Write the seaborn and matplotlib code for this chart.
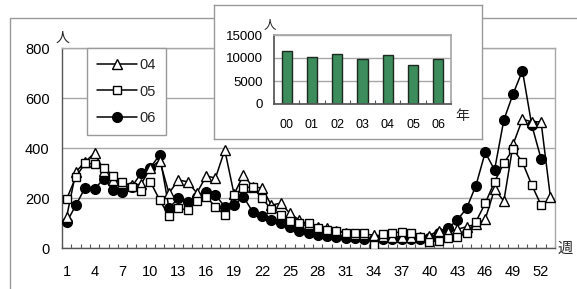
import numpy as np
import pandas as pd
import matplotlib
matplotlib.use("Agg")
import matplotlib.pyplot as plt
import seaborn as sns
from matplotlib.patches import Rectangle

# ---- data ----
cases_04 = [125, 305, 345, 380, 310, 272, 260, 252, 255, 320, 350, 219, 272, 265,
            220, 288, 280, 392, 215, 292, 245, 240, 172, 179, 139, 112, 95, 85,
            80, 70, 62, 58, 55, 52, 48, 45, 45, 45, 45, 50, 70, 65, 75, 85, 95,
            115, 235, 188, 415, 515, 505, 505, 205]
cases_05 = [196, 285, 340, 335, 320, 290, 265, 245, 228, 265, 192, 128, 159, 152,
            190, 205, 165, 132, 212, 240, 245, 199, 155, 132, 110, 100, 99, 80,
            72, 68, 60, 60, 62, 12, 55, 59, 65, 59, 45, 25, 30, 40, 45, 59, 105,
            179, 265, 339, 396, 343, 252, 172]
cases_06 = [103, 172, 242, 236, 277, 232, 225, 245, 299, 322, 372, 159, 199, 185,
            205, 225, 212, 165, 172, 205, 145, 130, 112, 99, 85, 70, 60, 52, 48,
            45, 42, 40, 38, 36, 35, 35, 36, 37, 38, 42, 59, 79, 112, 159, 250,
            383, 312, 512, 617, 709, 492, 357]
series_labels = ["04", "05", "06"]
week_tick_labels = [1, 4, 7, 10, 13, 16, 19, 22, 25, 28, 31, 34, 37, 40, 43, 46, 49, 52]

years = ["00", "01", "02", "03", "04", "05", "06"]
annual_totals = [11500, 10300, 10800, 9700, 10650, 8500, 9700]

W, H = 577, 289

sns.set_theme(style="white")
plt.rcParams["font.family"] = ["Liberation Sans", "Noto Sans CJK JP", "DejaVu Sans"]

fig = plt.figure(figsize=(W / 100, H / 100), dpi=100)

def fr(x0, y0, x1, y1):
    """pixel box (top-left origin) -> figure fraction rect"""
    return [x0 / W, 1 - y1 / H, (x1 - x0) / W, (y1 - y0) / H]

# outer frame (extends beyond the image to the right and bottom)
fig.patches.append(Rectangle((10 / W, -0.2), 1.2, 1 - 18 / H + 0.2,
                             transform=fig.transFigure, fill=False,
                             edgecolor="#9a9a9a", lw=1.0, zorder=0))

# ---- main chart ----
ax = fig.add_axes(fr(62, 48, 555, 248))
rows = []
for lab, vals in zip(series_labels, [cases_04, cases_05, cases_06]):
    for i, v in enumerate(vals):
        rows.append((lab, i + 1, v))
df = pd.DataFrame(rows, columns=["year", "week", "cases"])

sns.lineplot(data=df, x="week", y="cases", hue="year", style="year",
             hue_order=series_labels, style_order=series_labels,
             markers={"04": "^", "05": "s", "06": "o"}, dashes=False,
             palette={"04": "black", "05": "black", "06": "black"},
             linewidth=1.1, markersize=6.5, markeredgecolor="black",
             markeredgewidth=1.0, legend=False, ax=ax)

faces = {"04": "white", "05": "white", "06": "black"}
sizes = {"04": 6.5, "05": 6.0, "06": 7.0}
for line, lab in zip(ax.lines[:3], series_labels):
    line.set_markerfacecolor(faces[lab])
    line.set_markersize(sizes[lab])
    line.set_zorder(3 if lab == "06" else 4)

ax.set_xlim(0.5, 53.5)
ax.set_ylim(0, 800)
ax.set_yticks([0, 200, 400, 600, 800])
ax.set_xticks(week_tick_labels)
ax.set_xticklabels([str(w) for w in week_tick_labels])
ax.set_xticks(np.arange(0.5, 54, 1), minor=True)
ax.tick_params(axis="x", which="major", length=0, pad=12, labelsize=10.5, colors="black")
ax.tick_params(axis="x", which="minor", direction="in", length=3, width=0.8,
               color="#555555", bottom=True)
ax.tick_params(axis="y", length=0, pad=9, labelsize=10.5, colors="black")
ax.set_xlabel("")
ax.set_ylabel("")
ax.grid(axis="y", color="#a8a8a8", lw=1.0)
ax.set_axisbelow(True)
for s in ["top", "right"]:
    ax.spines[s].set_color("#a8a8a8")
for s in ["left", "bottom"]:
    ax.spines[s].set_color("#555555")
for s in ax.spines.values():
    s.set_linewidth(1.0)

leg = ax.legend(ax.lines[:3], series_labels, loc="upper left",
                bbox_to_anchor=(87 / W, 1 - 48 / H), bbox_transform=fig.transFigure,
                borderaxespad=0, frameon=True, fancybox=False, framealpha=1,
                edgecolor="#999999", fontsize=10.5, handlelength=2.7,
                handletextpad=0.2, labelspacing=0.85, borderpad=0.7)
leg.get_frame().set_linewidth(1.0)

fig.text(56 / W, 1 - 38 / H, "人", fontsize=10, ha="left", va="center")
fig.text(565 / W, 1 - 249 / H, "週", fontsize=11, ha="center", va="center")

# ---- inset ----
frame = fig.add_axes(fr(214, 5, 482, 139), zorder=2)
frame.set_xticks([])
frame.set_yticks([])
frame.set_facecolor("white")
for s in frame.spines.values():
    s.set_color("#9a9a9a")
    s.set_linewidth(1.0)

axi = fig.add_axes(fr(274, 35, 451, 104), zorder=3)
sns.barplot(x=years, y=annual_totals, color="#3c8c5c", edgecolor="#1c2a20",
            linewidth=1.0, width=0.4, saturation=1, ax=axi)
axi.set_xlim(-0.5, 6.5)
axi.set_ylim(0, 15000)
axi.set_yticks([0, 5000, 10000, 15000])
axi.set_xticks(np.arange(-0.5, 7, 1), minor=True)
axi.tick_params(axis="x", which="major", length=0, pad=11, labelsize=9, colors="black")
axi.tick_params(axis="x", which="minor", direction="in", length=3, width=0.8,
                color="#555555", bottom=True)
axi.tick_params(axis="y", length=0, pad=8, labelsize=9.5, colors="black")
axi.grid(axis="y", color="#a8a8a8", lw=1.0)
axi.set_axisbelow(True)
for s in ["top", "right"]:
    axi.spines[s].set_color("#a8a8a8")
for s in ["left", "bottom"]:
    axi.spines[s].set_color("#555555")
axi.set_facecolor("white")

fig.text(270 / W, 1 - 26 / H, "人", fontsize=9, ha="center", va="center", zorder=5)
fig.text(462 / W, 1 - 116 / H, "年", fontsize=10, ha="center", va="center", zorder=5)

fig.savefig("out.png", dpi=100)
